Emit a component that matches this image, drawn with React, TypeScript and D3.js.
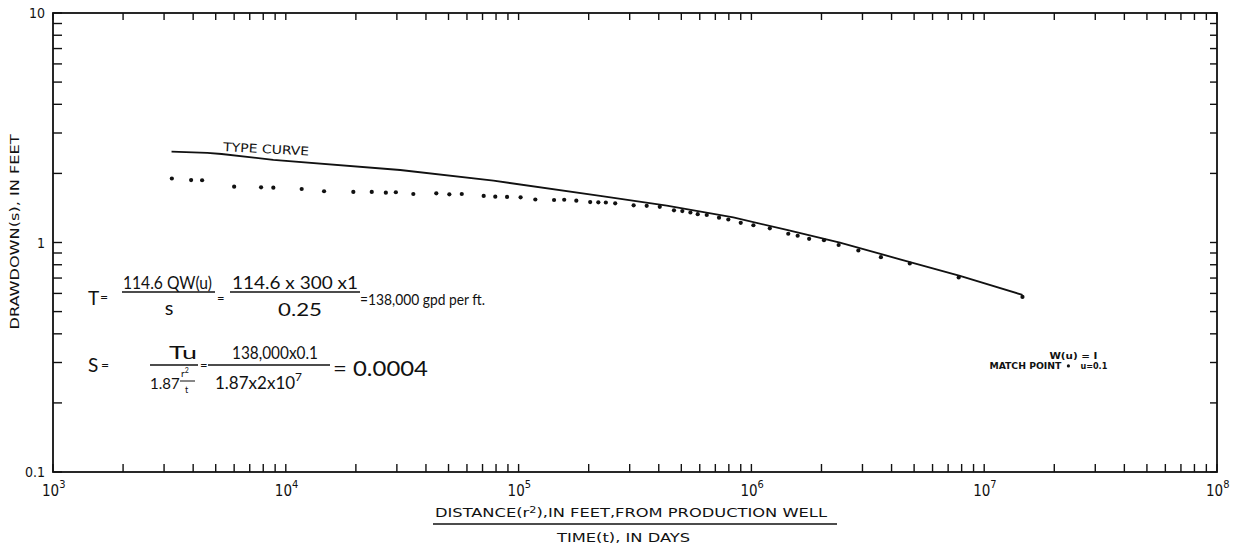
import React from "react";
import * as d3 from "d3";

// ---------- data ----------
const obsX = [3.24e3, 3.92e3, 4.37e3, 6.0e3, 7.83e3, 8.84e3, 1.17e4, 1.46e4, 1.95e4, 2.34e4, 2.69e4, 2.97e4, 3.53e4, 4.43e4, 5.04e4, 5.7e4, 7.08e4, 7.94e4, 8.92e4, 1.02e5, 1.18e5, 1.42e5, 1.57e5, 1.77e5, 2.03e5, 2.2e5, 2.37e5, 2.6e5, 3.12e5, 3.55e5, 4.04e5, 4.65e5, 5.05e5, 5.47e5, 5.88e5, 6.43e5, 7.26e5, 7.96e5, 9.0e5, 1.02e6, 1.2e6, 1.44e6, 1.58e6, 1.77e6, 2.05e6, 2.37e6, 2.88e6, 3.6e6, 4.79e6, 7.77e6, 1.46e7];
const obsY = [1.92, 1.89, 1.886, 1.768, 1.757, 1.75, 1.728, 1.689, 1.677, 1.677, 1.665, 1.672, 1.643, 1.655, 1.638, 1.643, 1.611, 1.6, 1.595, 1.59, 1.555, 1.547, 1.551, 1.536, 1.516, 1.512, 1.509, 1.497, 1.467, 1.46, 1.445, 1.395, 1.385, 1.365, 1.342, 1.331, 1.296, 1.272, 1.231, 1.201, 1.165, 1.103, 1.081, 1.048, 1.034, 0.985, 0.932, 0.872, 0.818, 0.711, 0.585];

const typeCurveX = [3.23e3, 4.6e3, 5.3e3, 8.84e3, 3.1e4, 7.8e4, 2.24e5, 4.33e5, 8.36e5, 1.42e6, 2.4e6, 4.35e6, 7.87e6, 1.46e7];
const typeCurveY = [2.49, 2.46, 2.43, 2.29, 2.07, 1.86, 1.595, 1.447, 1.288, 1.134, 0.998, 0.845, 0.715, 0.591];

const matchPointX = [2.3e7];
const matchPointY = [0.29];

const xTickLabels = [
  { v: 1e3, base: "10", exp: "3" },
  { v: 1e4, base: "10", exp: "4" },
  { v: 1e5, base: "10", exp: "5" },
  { v: 1e6, base: "10", exp: "6" },
  { v: 1e7, base: "10", exp: "7" },
  { v: 1e8, base: "10", exp: "8" },
];
const yTickLabels = [
  { v: 0.1, label: "0.1" },
  { v: 1, label: "1" },
  { v: 10, label: "10" },
];

// ---------- layout ----------
const W = 1241;
const H = 550;
const left = 53, right = 1217, top = 13, bottom = 472;

const x = d3.scaleLog().domain([1e3, 1e8]).range([left, right]);
const y = d3.scaleLog().domain([0.1, 10]).range([bottom, top]);

const FONT = "'Liberation Sans Narrow','DejaVu Sans Condensed','Liberation Sans',sans-serif";
const MFONT = "Lato,'Open Sans','DejaVu Sans',sans-serif";

export default function App() {
  const xTicks = x.ticks();
  const yTicks = y.ticks();
  const line = d3
    .line<number>()
    .x((_, i) => x(typeCurveX[i]))
    .y((_, i) => y(typeCurveY[i]));
  const lineD = line(typeCurveX) || "";

  return (
    <svg
      width={W}
      height={H}
      style={{ position: "absolute", left: 0, top: 0, background: "#fff" }}
    >
      <rect x={0} y={0} width={W} height={H} fill="#fff" />
      {/* frame */}
      <rect x={left} y={top} width={right - left} height={bottom - top} fill="none" stroke="#111" strokeWidth={1.8} />
      {/* ticks */}
      {xTicks.map((t, i) => (
        <g key={"xt" + i} stroke="#111" strokeWidth={1.4}>
          <line x1={x(t)} x2={x(t)} y1={bottom} y2={bottom - 8} />
          <line x1={x(t)} x2={x(t)} y1={top} y2={top + 7} />
        </g>
      ))}
      {yTicks.map((t, i) => (
        <g key={"yt" + i} stroke="#111" strokeWidth={1.4}>
          <line x1={left} x2={left + 9} y1={y(t)} y2={y(t)} />
          <line x1={right} x2={right - 7} y1={y(t)} y2={y(t)} />
        </g>
      ))}
      {/* x tick labels */}
      {xTickLabels.map((d, i) => (
        <text key={"xl" + i} x={x(d.v) - 11} y={496} fontFamily={FONT} fontSize={15} fill="#111">
          {d.base}
          <tspan fontSize={11} dy={-8}>{d.exp}</tspan>
        </text>
      ))}
      {/* y tick labels */}
      {yTickLabels.map((d, i) => (
        <text key={"yl" + i} x={left - 8} y={y(d.v) + 5} textAnchor="end" fontFamily={FONT} fontSize={14} fill="#111">
          {d.label}
        </text>
      ))}
      {/* axis titles */}
      <text x={435} y={517} fontFamily={FONT} fontSize={13} fill="#111" textLength={392} lengthAdjust="spacingAndGlyphs">
        DISTANCE(r<tspan fontSize={9} dy={-4}>2</tspan><tspan dy={4}>),IN FEET,FROM PRODUCTION WELL</tspan>
      </text>
      <line x1={433} x2={837} y1={524} y2={524} stroke="#111" strokeWidth={1.4} />
      <text x={557} y={542} fontFamily={FONT} fontSize={13} fill="#111" textLength={133} lengthAdjust="spacingAndGlyphs">
        TIME(t), IN DAYS
      </text>
      <text
        transform="translate(19,232) rotate(-90)"
        textAnchor="middle"
        fontFamily={FONT}
        fontSize={12}
        fill="#111"
        textLength={195}
        lengthAdjust="spacingAndGlyphs"
      >
        DRAWDOWN(s), IN FEET
      </text>

      {/* type curve */}
      <path d={lineD} fill="none" stroke="#111" strokeWidth={1.8} />
      <text
        transform="translate(223,151) rotate(3)"
        fontFamily={FONT}
        fontSize={12}
        fill="#111"
        textLength={86}
        lengthAdjust="spacingAndGlyphs"
      >
        TYPE CURVE
      </text>

      {/* observed points */}
      {obsX.map((v, i) => (
        <circle key={"p" + i} cx={x(v)} cy={y(obsY[i]) + 1} r={2.1} fill="#111" />
      ))}

      {/* match point */}
      {matchPointX.map((v, i) => (
        <g key={"mp" + i}>
          <circle cx={x(v)} cy={y(matchPointY[i])} r={1.6} fill="#111" />
          <text x={x(v) - 7} y={y(matchPointY[i]) + 3} textAnchor="end" fontFamily={FONT} fontSize={9} fontWeight="bold" fill="#111" textLength={72} lengthAdjust="spacingAndGlyphs">
            MATCH POINT
          </text>
          <text x={x(v) + 12} y={y(matchPointY[i]) + 3} fontFamily={FONT} fontSize={9} fontWeight="bold" fill="#111">
            u=0.1
          </text>
          <text x={x(v) - 19} y={y(matchPointY[i]) - 7} fontFamily={FONT} fontSize={9} fontWeight="bold" fill="#111" textLength={48} lengthAdjust="spacingAndGlyphs">
            W(u) = I
          </text>
        </g>
      ))}

      {/* formulas: row 1 */}
      <g fontFamily={MFONT} fill="#111">
        <text x={88} y={305} fontSize={19}>T</text>
        <text x={100} y={302} fontSize={14}>=</text>
        <text x={123} y={289} fontSize={17} textLength={89} lengthAdjust="spacingAndGlyphs">114.6 QW(u)</text>
        <line x1={122} x2={215} y1={292} y2={292} stroke="#111" strokeWidth={1.3} />
        <text x={169} y={315} fontSize={20} textAnchor="middle">s</text>
        <text x={217} y={303} fontSize={13}>=</text>
        <text x={232} y={289} fontSize={17} textLength={126} lengthAdjust="spacingAndGlyphs">114.6 x 300 x1</text>
        <line x1={230} x2={360} y1={292} y2={292} stroke="#111" strokeWidth={1.3} />
        <text x={278} y={316} fontSize={17} textLength={44} lengthAdjust="spacingAndGlyphs">0.25</text>
        <text x={360} y={305} fontSize={16} textLength={125} lengthAdjust="spacingAndGlyphs">=138,000 gpd per ft.</text>

        {/* row 2 */}
        <text x={88} y={372} fontSize={19}>S</text>
        <text x={101} y={370} fontSize={14}>=</text>
        <text x={169} y={359} fontSize={17} textLength={28} lengthAdjust="spacingAndGlyphs">Tu</text>
        <line x1={150} x2={198} y1={365} y2={365} stroke="#111" strokeWidth={1.3} />
        <text x={150} y={389} fontSize={15}>1.87</text>
        <text x={181} y={377} fontSize={10}>r<tspan fontSize={7} dy={-4}>2</tspan></text>
        <line x1={180} x2={195} y1={381} y2={381} stroke="#111" strokeWidth={1} />
        <text x={185} y={393} fontSize={9}>t</text>
        <text x={200} y={370} fontSize={13}>=</text>
        <text x={232} y={359} fontSize={17} textLength={86} lengthAdjust="spacingAndGlyphs">138,000x0.1</text>
        <line x1={208} x2={330} y1={365} y2={365} stroke="#111" strokeWidth={1.3} />
        <text x={215} y={389} fontSize={17}>
          1.87x2x10<tspan fontSize={12} dy={-8}>7</tspan>
        </text>
        <text x={333} y={376} fontSize={21} textLength={95} lengthAdjust="spacingAndGlyphs">= 0.0004</text>
      </g>
    </svg>
  );
}
